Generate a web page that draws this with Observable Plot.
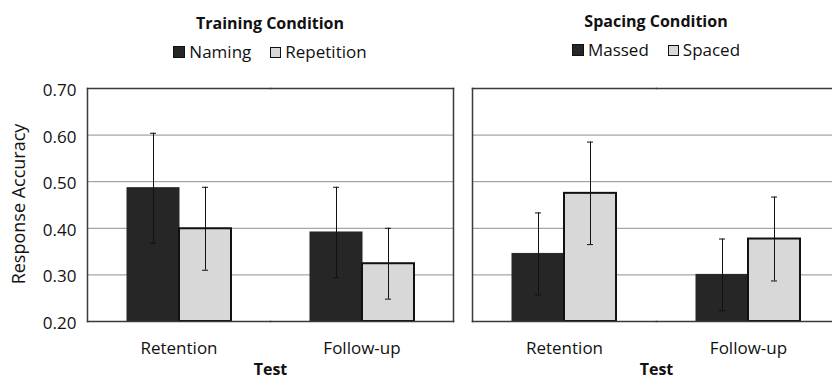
<!DOCTYPE html>
<html>
<head>
<meta charset="utf-8">
<script src="https://cdn.jsdelivr.net/npm/d3@7"></script>
<script src="https://cdn.jsdelivr.net/npm/@observablehq/plot@0.6"></script>
<style>
  html, body { margin: 0; padding: 0; background: #fff; overflow: hidden; }
  body { font-family: "Open Sans", sans-serif; color: #111; }
  #row { display: flex; width: 840px; height: 381px; }
  .col { display: flex; flex-direction: column; }
  .head { height: 66px; box-sizing: border-box; }
  .title { font-weight: bold; font-size: 16px; line-height: 20px; text-align: center; }
  .legend { display: flex; justify-content: center; gap: 19px; font-size: 17px; line-height: 20px; margin-top: 9px; }
  .item { display: flex; align-items: center; gap: 4px; }
  .sw { width: 10px; height: 10px; border: 1px solid #111; }
  .sw.light { border-width: 1.5px; width: 9px; height: 9px; }
  svg { display: block; overflow: visible; }
</style>
</head>
<body>
<div id="row"></div>
<script>
// ---- data ----
const tests = ["Retention", "Follow-up"];
const yTicks = [0.2, 0.3, 0.4, 0.5, 0.6, 0.7];

const trainingTitle = "Training Condition";
const trainingLevels = ["Naming", "Repetition"];
const trainingRetention = [0.486, 0.399];
const trainingFollowUp = [0.391, 0.324];
const trainingRetentionErr = [0.118, 0.089];
const trainingFollowUpErr = [0.097, 0.076];

const spacingTitle = "Spacing Condition";
const spacingLevels = ["Massed", "Spaced"];
const spacingRetention = [0.345, 0.475];
const spacingFollowUp = [0.300, 0.377];
const spacingRetentionErr = [0.088, 0.110];
const spacingFollowUpErr = [0.077, 0.090];

const yLabel = "Response Accuracy";
const xLabel = "Test";

// ---- style ----
const dark = "#262626";
const light = "#d8d8d8";
const gridColor = "#8f8f8f";
const frameColor = "#3a3a3a";

function panel({title, levels, means, errs, showY, marginLeft, frameWidth, headShift}) {
  const data = tests.flatMap((t, i) =>
    levels.map((l, j) => ({test: t, level: l, mean: means[i][j], err: errs[i][j], k: j})));
  const base = d3.min(yTicks);
  const col = document.createElement("div");
  col.className = "col";
  col.style.width = (marginLeft + frameWidth) + "px";

  const head = document.createElement("div");
  head.className = "head";
  head.style.paddingLeft = marginLeft + "px";
  head.style.paddingTop = (13 + headShift) + "px";
  const t = document.createElement("div");
  t.className = "title";
  t.textContent = title;
  head.appendChild(t);
  const lg = document.createElement("div");
  lg.className = "legend";
  levels.forEach((l, j) => {
    const it = document.createElement("div");
    it.className = "item";
    const sw = document.createElement("div");
    sw.className = "sw" + (j ? " light" : "");
    sw.style.background = j ? light : dark;
    const tx = document.createElement("span");
    tx.textContent = l;
    it.appendChild(sw); it.appendChild(tx);
    lg.appendChild(it);
  });
  head.appendChild(lg);
  col.appendChild(head);

  const marks = [
    Plot.gridY(yTicks, {stroke: gridColor, strokeOpacity: 1, strokeWidth: 1}),
    Plot.barY(data, {fx: "test", x: "level", y1: base, y2: "mean", fill: "level",
      stroke: d => d.k ? "#111" : dark, strokeWidth: d => d.k ? 2 : 1}),
    Plot.ruleX(data, {fx: "test", x: "level", y1: d => d.mean - d.err, y2: d => d.mean + d.err, stroke: "#111", strokeWidth: 1}),
    Plot.tickY(data, {fx: "test", x: "level", y: d => d.mean + d.err, stroke: "#111", strokeWidth: 1, insetLeft: 23, insetRight: 23}),
    Plot.tickY(data, {fx: "test", x: "level", y: d => d.mean - d.err, stroke: "#111", strokeWidth: 1, insetLeft: 23, insetRight: 23}),
    Plot.frame({anchor: "top", stroke: frameColor, strokeWidth: 1.5}),
    Plot.frame({anchor: "bottom", stroke: frameColor, strokeWidth: 1.5}),
    Plot.frame({anchor: "left", stroke: frameColor, strokeWidth: 1.5, facetAnchor: "left"}),
    Plot.frame({anchor: "right", stroke: frameColor, strokeWidth: 1.5, facetAnchor: "right"}),
    Plot.axisFx({anchor: "bottom", tickSize: 0, tickPadding: 20, fontSize: 17, label: null}),
    Plot.text([xLabel], {frameAnchor: "bottom-right", facetAnchor: "left", dy: 53, textAnchor: "middle", fontWeight: "bold", fontSize: 16})
  ];
  if (showY) {
    marks.push(
      Plot.axisY(yTicks, {tickSize: 0, tickPadding: 11, tickFormat: ".2f", fontSize: 17, dy: 2, label: null, facetAnchor: "left"}),
      Plot.text([yLabel], {frameAnchor: "left", facetAnchor: "left", dx: -68, dy: -1, rotate: -90, textAnchor: "middle", fontSize: 18})
    );
  }
  const plot = Plot.plot({
    width: marginLeft + frameWidth,
    height: 315,
    marginTop: 22,
    marginBottom: 60,
    marginLeft,
    marginRight: 0,
    style: {fontFamily: "Open Sans", fontSize: "17px", color: "#111", background: "transparent", overflow: "visible"},
    fx: {domain: tests, padding: 0, axis: null},
    x: {domain: levels, paddingInner: 0, paddingOuter: 0.74, axis: null},
    y: {domain: [d3.min(yTicks), d3.max(yTicks)], axis: null},
    color: {domain: levels, range: [dark, light]},
    marks
  });
  col.appendChild(plot);
  return col;
}

const row = document.getElementById("row");
row.appendChild(panel({
  title: trainingTitle, levels: trainingLevels,
  means: [trainingRetention, trainingFollowUp], errs: [trainingRetentionErr, trainingFollowUpErr],
  showY: true, marginLeft: 87, frameWidth: 366, headShift: 0
}));
row.appendChild(panel({
  title: spacingTitle, levels: spacingLevels,
  means: [spacingRetention, spacingFollowUp], errs: [spacingRetentionErr, spacingFollowUpErr],
  showY: false, marginLeft: 19, frameWidth: 368, headShift: -2
}));
</script>
</body>
</html>
